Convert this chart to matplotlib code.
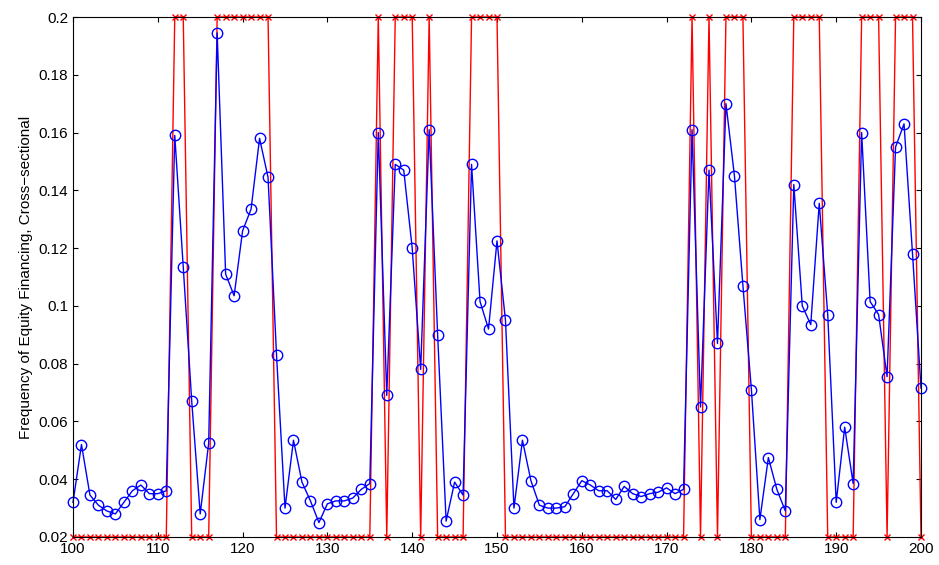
import matplotlib
matplotlib.use("Agg")
import matplotlib.pyplot as plt
import numpy as np

plt.rcParams['font.family'] = ['Liberation Sans', 'DejaVu Sans']

x = np.arange(100, 201)

freq = [0.032, 0.052, 0.0345, 0.031, 0.029, 0.028, 0.032, 0.036, 0.038, 0.035,
        0.035, 0.036, 0.159, 0.1135, 0.067, 0.028, 0.0525, 0.1945, 0.111, 0.1035,
        0.126, 0.1335, 0.158, 0.1445, 0.083, 0.030, 0.0535, 0.039, 0.0325, 0.025,
        0.0315, 0.0325, 0.0325, 0.0335, 0.0365, 0.0385, 0.160, 0.069, 0.149, 0.147,
        0.120, 0.078, 0.161, 0.090, 0.0255, 0.039, 0.0345, 0.149, 0.1015, 0.092,
        0.1225, 0.095, 0.030, 0.0535, 0.0395, 0.031, 0.030, 0.030, 0.0305, 0.035,
        0.0395, 0.038, 0.036, 0.036, 0.033, 0.0375, 0.035, 0.034, 0.035, 0.0355,
        0.037, 0.035, 0.0365, 0.161, 0.065, 0.147, 0.087, 0.170, 0.145, 0.107,
        0.071, 0.026, 0.0475, 0.0365, 0.029, 0.142, 0.100, 0.0935, 0.1355, 0.097,
        0.032, 0.058, 0.0385, 0.160, 0.1015, 0.097, 0.0755, 0.155, 0.163, 0.118,
        0.0715]

# periods flagged as high state
high_idx = [112, 113, 117, 118, 119, 120, 121, 122, 123, 136, 138, 139, 140, 142,
            147, 148, 149, 150, 173, 175, 177, 178, 179, 185, 186, 187, 188,
            193, 194, 195, 197, 198, 199]
lo_val, hi_val = 0.02, 0.2

state = np.array([hi_val if v in high_idx else lo_val for v in x])

fig = plt.figure(figsize=(9.39, 5.65), dpi=100)
ax = fig.add_axes([73/939, 1 - 537/565, (921-73)/939, (537-17)/565])

ax.plot(x, state, color='red', marker='x', markersize=5, linewidth=1, clip_on=False)
ax.plot(x, freq, color='blue', marker='o', markersize=7.5, markerfacecolor='none',
        linewidth=1, clip_on=False)

ax.set_xlim(100, 200)
ax.set_ylim(0.02, 0.2)
ax.set_xticks(np.arange(100, 201, 10))
ax.set_yticks(np.arange(0.02, 0.201, 0.02))
ax.set_yticklabels(['0.02', '0.04', '0.06', '0.08', '0.1', '0.12', '0.14', '0.16', '0.18', '0.2'])
ax.tick_params(direction='in', top=True, right=True, labelsize=11)
ax.set_ylabel('Frequency of Equity Financing, Cross\u2212sectional', fontsize=11)

fig.savefig('out.png', dpi=100)
